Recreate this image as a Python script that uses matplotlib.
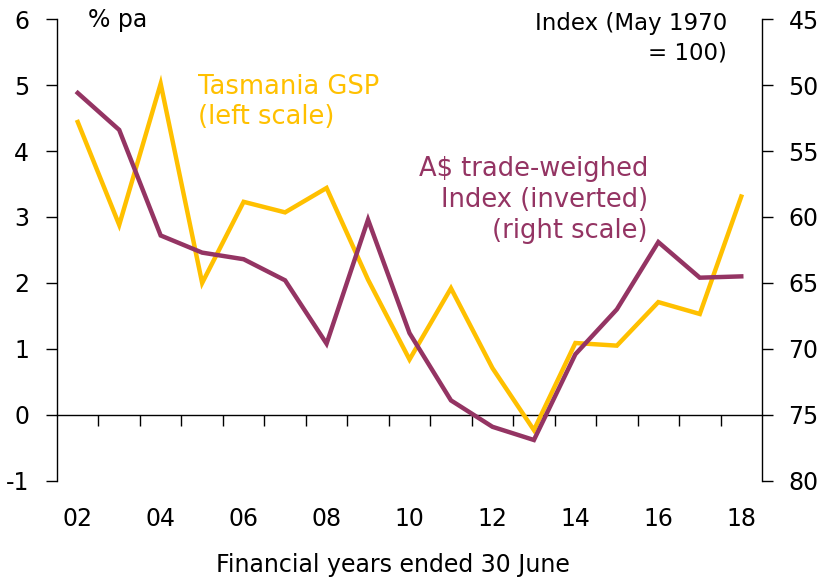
import numpy as np
import matplotlib
matplotlib.use("Agg")
import matplotlib.pyplot as plt
from matplotlib.ticker import MultipleLocator, FixedLocator

plt.rcParams['font.family'] = ['DejaVu Sans']

# Data
years = ['02', '03', '04', '05', '06', '07', '08', '09', '10',
         '11', '12', '13', '14', '15', '16', '17', '18']
gsp = [4.44, 2.88, 5.02, 2.00, 3.23, 3.07, 3.44, 2.05, 0.84,
       1.92, 0.71, -0.23, 1.09, 1.05, 1.71, 1.53, 3.31]
twi = [50.6, 53.4, 61.4, 62.7, 63.2, 64.8, 69.6, 60.2, 68.8,
       73.9, 75.9, 76.9, 70.4, 67.0, 61.9, 64.6, 64.5]

gold = '#FFC000'
plum = '#943463'
fs = 17

x = np.arange(len(years))

fig = plt.figure(figsize=(8.19, 5.78), dpi=100)
ax = fig.add_axes([0.0696, 0.168, 0.8608, 0.799])
ax2 = ax.twinx()

ax.plot(x, gsp, color=gold, lw=3.2, solid_joinstyle='miter', zorder=3)
ax2.plot(x, twi, color=plum, lw=3.2, solid_joinstyle='miter', zorder=3)

ax.set_xlim(-0.5, 16.5)
ax.set_ylim(-1, 6)
ax2.set_ylim(80, 45)

# zero line with category boundary ticks
ax.spines['bottom'].set_position(('data', 0))
ax.spines['top'].set_visible(False)
ax.spines['right'].set_visible(False)
ax2.spines['top'].set_visible(False)
ax2.spines['bottom'].set_visible(False)
ax2.spines['left'].set_visible(False)
ax.xaxis.set_major_locator(FixedLocator(np.arange(0.5, 16, 1)))
ax.tick_params(axis='x', which='major', direction='out', length=8, width=1,
               labelbottom=False)

# category labels at the bottom
sec = ax.secondary_xaxis(0)
sec.spines['bottom'].set_visible(False)
sec.set_xticks(x[::2])
sec.set_xticklabels(years[::2])
sec.tick_params(length=0, pad=19, labelsize=fs)

ax.set_yticks(np.arange(-1, 7))
ax.set_yticklabels([str(v) for v in range(-1, 7)])
ax.tick_params(axis='y', direction='out', length=8, width=1, pad=12,
               labelsize=fs)
ax2.yaxis.set_major_locator(MultipleLocator(5))
ax2.tick_params(axis='y', direction='out', length=8, width=1, pad=11,
                labelsize=fs)
ax.spines['left'].set_linewidth(1)
ax2.spines['right'].set_linewidth(1)
ax.spines['bottom'].set_linewidth(1)

# annotations
fig.text(393 / 819, 1 - 565 / 578, 'Financial years ended 30 June',
         fontsize=fs, ha='center', va='center')
fig.text(88 / 819, 1 - 20 / 578, '% pa', fontsize=fs,
         ha='left', va='center')
fig.text(727 / 819, 1 - 38 / 578, 'Index (May 1970\n= 100)', fontsize=16.5,
         ha='right', va='center', linespacing=1.35)
fig.text(198 / 819, 1 - 102 / 578, 'Tasmania GSP\n(left scale)', fontsize=18.5,
         ha='left', va='center', color=gold, linespacing=1.25)
fig.text(648 / 819, 1 - 200 / 578,
         'A$ trade-weighed\nIndex (inverted)\n(right scale)', fontsize=18.5,
         ha='right', va='center', color=plum, linespacing=1.25)

fig.savefig('out.png', dpi=100)
